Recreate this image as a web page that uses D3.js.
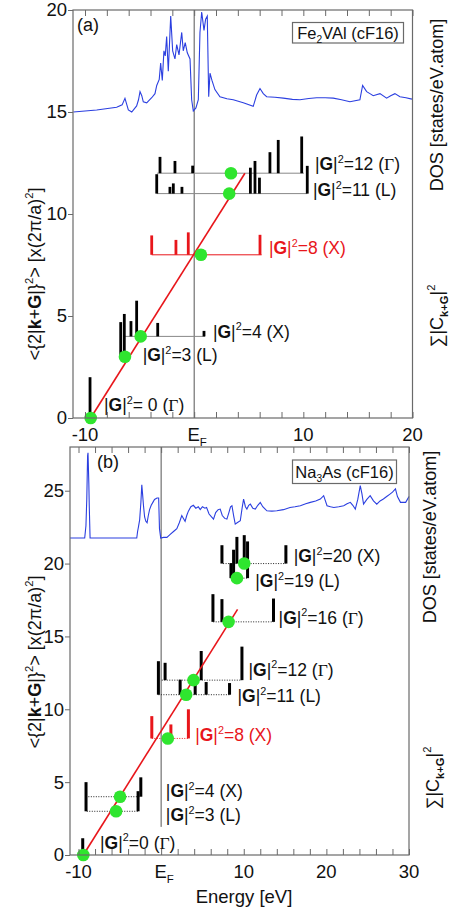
<!DOCTYPE html>
<html><head><meta charset="utf-8">
<script src="https://cdn.jsdelivr.net/npm/d3@7"></script>
<style>body{margin:0;background:#fff}svg{display:block}</style>
</head><body>
<script>
// ---------- DATA ----------
// Panel (a) Fe2VAl : DOS curve [energy eV, plotted value on left axis]
const dosA = [[-11.07,15.0],[-8.93,15.1],[-7.1,15.23],[-6.6,15.35],[-6.34,15.67],[-6.03,15.1],[-5.72,15.0],[-5.27,15.3],[-5.1,15.6],[-4.96,16.0],[-4.8,15.8],[-4.66,15.5],[-4.35,15.45],[-3.89,15.7],[-3.59,15.9],[-3.43,16.3],[-3.2,16.6],[-3.07,17.4],[-2.92,16.55],[-2.77,18.0],[-2.65,17.75],[-2.52,18.7],[-2.37,17.0],[-2.15,19.7],[-1.97,18.0],[-1.76,17.6],[-1.6,18.3],[-1.39,17.8],[-1.14,18.9],[-1.0,18.0],[-0.82,18.4],[-0.63,17.9],[-0.38,17.6],[-0.23,15.6],[-0.08,15.05],[0.16,15.2],[0.38,15.6],[0.53,18.9],[0.69,19.9],[0.9,19.0],[1.05,19.55],[1.2,19.7],[1.33,15.75],[1.45,16.9],[1.63,16.55],[1.9,16.1],[2.36,15.75],[3.0,15.65],[3.58,15.6],[4.5,15.45],[5.41,15.28],[5.72,15.83],[6.03,16.15],[6.33,15.9],[6.64,15.75],[7.4,15.72],[8.16,15.68],[9.0,15.62],[9.69,15.6],[10.5,15.66],[11.22,15.7],[12.0,15.7],[12.74,15.68],[13.5,15.6],[14.27,15.5],[15.18,15.6],[15.43,16.3],[15.8,16.0],[16.1,15.9],[16.4,15.8],[17.02,15.9],[17.63,15.68],[18.0,15.8],[18.39,15.9],[18.85,15.75],[19.4,15.7],[19.95,15.63]];
// Panel (a) bars: [|G|^2, energy, sum|C|^2 height]
const barsA = [[0,-9.54,2.0],[3,-6.73,1.7],[3,-6.4,2.1],[4,-5.79,0.75],[4,-5.27,1.75],[4,-3.34,0.66],[4,0.9,0.27],
  [8,-3.89,0.95],[8,-1.67,0.73],[8,-0.54,1.1],[8,6.03,0.98],
  [11,-3.43,0.95],[11,-2.22,0.33],[11,-1.91,0.5],[11,-1.12,0.33],[11,5.15,1.27],[11,5.57,1.6],[11,5.98,0.78],[11,10.36,1.36],
  [12,-3.13,0.8],[12,-1.76,0.6],[12,-0.14,0.37],[12,6.94,1.03],[12,7.7,1.63],[12,9.85,1.8]];
// Panel (a) group base lines: [|G|^2, from energy, to energy]
const baseA = [[3,-6.8,-6.3],[4,-6.49,0.99],[8,-3.89,6.18],[11,-3.43,10.36],[12,-3.41,10.05]];
// Panel (a) averaged energies (green dots): [|G|^2, energy]
const dotsA = [[0,-9.48],[3,-6.34],[4,-4.9],[8,0.62],[11,3.21],[12,3.37]];
const fitA = [[-9.48,0],[4.65,12]];
// Panel (a) labels: [|G|^2, text, symbol, energy, value]
const labelsA = [[12,"=12 (","Γ",11.06,12.45],[11,"=11 (","L",10.88,11.18],[8,"=8 (","X",6.85,8.33],[4,"=4 (","X",1.72,4.23],[3,"=3 (","L",-4.72,3.09],[0,"= 0 (","Γ",-8.26,0.64]];

// Panel (b) Na3As
const dosB = [[-11.03,21.75],[-9.25,21.75],[-9.1,22.6],[-9.0,24.4],[-8.9,27.4],[-8.85,27.6],[-8.75,25.5],[-8.7,24.0],[-8.6,21.75],[-2.95,21.75],[-2.85,22.2],[-2.75,22.5],[-2.6,23.0],[-2.45,24.2],[-2.34,25.4],[-2.25,24.8],[-2.14,24.0],[-2.0,23.2],[-1.85,22.9],[-1.7,22.8],[-1.55,23.3],[-1.4,23.7],[-1.2,24.0],[-1.0,24.2],[-0.8,24.4],[-0.5,24.5],[-0.3,24.5],[-0.2,22.4],[-0.05,21.75],[0.3,21.8],[0.7,21.8],[1.1,22.0],[1.5,22.2],[1.9,22.4],[2.2,22.8],[2.5,23.3],[2.7,23.1],[2.9,22.9],[3.1,23.3],[3.3,23.6],[3.6,23.9],[3.9,24.0],[4.2,23.8],[4.5,23.9],[4.73,23.7],[5.0,23.9],[5.3,23.8],[5.5,23.85],[5.8,23.4],[6.1,23.2],[6.34,23.05],[6.6,23.5],[6.9,23.7],[7.15,23.74],[7.4,23.3],[7.7,23.1],[7.96,23.05],[8.2,23.5],[8.4,23.9],[8.57,23.97],[8.8,23.2],[8.97,22.71],[9.2,22.8],[9.58,22.94],[9.8,23.8],[9.98,24.43],[10.2,23.9],[10.38,23.74],[10.6,24.0],[10.8,24.08],[11.1,23.8],[11.4,23.74],[11.7,24.0],[12.0,24.2],[12.3,23.9],[12.8,23.62],[13.4,23.6],[14.0,23.62],[14.8,23.7],[15.6,23.85],[16.2,23.9],[16.85,23.97],[17.5,24.1],[18.06,24.2],[18.7,24.3],[19.27,24.43],[19.67,24.66],[20.08,23.97],[20.5,23.9],[20.9,23.85],[21.5,23.9],[22.1,23.97],[22.5,24.1],[22.9,24.2],[23.2,24.0],[23.5,23.74],[23.8,24.4],[24.1,25.35],[24.3,24.8],[24.5,24.08],[24.9,24.4],[25.3,24.66],[25.7,24.3],[26.1,24.08],[26.5,24.3],[26.9,24.43],[27.3,24.6],[27.7,24.77],[28.0,24.9],[28.36,25.12],[28.6,24.6],[28.97,24.2],[29.3,24.2],[29.6,24.2],[30.0,24.6]];
const barsB = [[0,-9.49,1.15],[3,-9.09,2.0],[3,-2.79,1.38],[4,-2.46,1.33],
  [8,-1.13,1.53],[8,1.18,0.96],[8,3.3,2.0],
  [11,-0.33,2.3],[11,2.3,1.03],[11,4.12,0.8],[11,5.45,0.87],[11,8.28,0.8],
  [12,0.48,1.19],[12,4.85,2.0],[12,9.78,2.3],
  [16,6.27,1.9],[16,7.36,1.56],[16,13.6,1.6],
  [19,8.45,1.03],[19,8.77,1.95],[19,10.46,2.52],
  [20,7.36,1.26],[20,9.17,1.83],[20,10.06,1.95],[20,15.1,1.26]];
const baseB = [[3,-9.0,-2.75],[4,-8.81,-2.46],[8,-1.13,3.3],[11,-0.33,8.4],[12,0.08,9.78],[16,6.3,13.6],[19,8.45,10.46],[20,7.5,15.1]];
const dotsB = [[0,-9.42],[3,-5.45],[4,-4.97],[8,0.81],[11,3.03],[12,3.92],[16,8.16],[19,9.17],[20,10.06]];
const fitB = [[-9.42,0],[9.25,16.86]];
const labelsB = [[20,"=20 (","X",16.04,20.49],[19,"=19 (","L",11.39,18.81],[16,"=16 (","Γ",14.22,16.29],[12,"=12 (","Γ",10.58,12.73],[11,"=11 (","L",9.25,10.89],[8,"=8 (","X",4.12,8.21],[4,"=4 (","X",0.57,4.36],[3,"=3 (","L",0.57,2.75],[0,"=0 (","Γ",-7.39,0.85]];

const xTicksA = [-10,0,10,20], xTicksB = [-10,0,10,20,30];
const yTicksA = [0,5,10,15,20], yTicksB = [0,5,10,15,20,25];
const redGroup = 8;

// ---------- DRAW ----------
const W=454,H=911;
const FONT="'Liberation Sans', Arial, Helvetica, sans-serif";
const TICKFS=18.5, LABFS=17.5;
const svg=d3.select('body').append('svg').attr('width',W).attr('height',H)
  .attr('font-family',FONT);

function rich(text, segs, fs){
  let shift=0;
  segs.forEach(s=>{
    const ts=text.append('tspan').text(s.t);
    const target = s.sup ? -fs*0.42 : (s.sub ? fs*0.28 : 0);
    ts.attr('dy', target-shift); shift=target;
    if(s.sup||s.sub) ts.attr('font-size', fs*0.62);
    if(s.b) ts.attr('font-weight','bold');
    if(s.serif) ts.attr('font-family',"'Liberation Serif', 'Times New Roman', serif");
  });
}

function panel(cfg){
  const x=d3.scaleLinear().domain(cfg.xd).range(cfg.xr);
  const y=d3.scaleLinear().domain(cfg.yd).range(cfg.yr);
  const g=svg.append('g');
  const [x0,x1]=cfg.xr;
  const yBot=cfg.yr[0], yTop=cfg.yr[1];
  const minor=d3.range(-10,cfg.xd[1]+0.001,2);

  // E_F line
  g.append('line').attr('x1',x(0)).attr('x2',x(0)).attr('y1',yTop).attr('y2',y(cfg.efBottom))
    .attr('stroke','#555').attr('stroke-width',1);

  // DOS
  g.append('path').datum(cfg.dos).attr('fill','none').attr('stroke','#2b3fe0').attr('stroke-width',1.1)
    .attr('d',d3.line().x(d=>x(d[0])).y(d=>y(d[1])));

  // baselines
  g.selectAll('.base').data(cfg.base).enter().append('line')
    .attr('x1',d=>x(d[1])).attr('x2',d=>x(d[2])).attr('y1',d=>y(d[0])).attr('y2',d=>y(d[0]))
    .attr('stroke',d=>d[0]===redGroup?'#e8161b':(cfg.dotted?'#222':'#888'))
    .attr('stroke-width',1)
    .attr('stroke-dasharray',cfg.dotted?'1,1.5':null);

  // bars
  g.selectAll('.bar').data(cfg.bars).enter().append('rect')
    .attr('x',d=>x(d[1])-cfg.barW/2).attr('width',cfg.barW)
    .attr('y',d=>y(d[0]+d[2])).attr('height',d=>y(d[0])-y(d[0]+d[2]))
    .attr('fill',d=>d[0]===redGroup?'#e8161b':'#000');

  // fit line
  g.append('path').datum(cfg.fit).attr('stroke','#e8161b').attr('stroke-width',1.6).attr('fill','none')
    .attr('d',d3.line().x(d=>x(d[0])).y(d=>y(d[1])));

  // dots
  g.selectAll('.dot').data(cfg.dots).enter().append('circle')
    .attr('cx',d=>x(d[1])).attr('cy',d=>y(d[0])).attr('r',6.3).attr('fill','#2fe52f');

  // labels
  cfg.labels.forEach(l=>{
    const t=g.append('text').attr('x',x(l[3])).attr('y',y(l[4])+6).attr('font-size',LABFS)
      .attr('fill',l[0]===redGroup?'#e8161b':'#111');
    rich(t,[{t:'|'},{t:'G',b:1},{t:'|'},{t:'2',sup:1},{t:l[1]},{t:l[2],serif:l[2]==='Γ'},{t:')'}],LABFS);
  });

  // frame
  g.append('rect').attr('x',x0).attr('y',yTop).attr('width',x1-x0).attr('height',yBot-yTop)
    .attr('fill','none').attr('stroke','#6a6a6a').attr('stroke-width',1.2);

  // axes ticks
  const ax=g.append('g').attr('transform',`translate(0,${yBot})`)
    .call(d3.axisBottom(x).tickValues(minor).tickSizeInner(-6).tickSizeOuter(0).tickFormat(''));
  const axt=g.append('g').attr('transform',`translate(0,${yTop})`)
    .call(d3.axisTop(x).tickValues(minor).tickSizeInner(-6).tickSizeOuter(0).tickFormat(''));
  const ay=g.append('g').attr('transform',`translate(${x0},0)`)
    .call(d3.axisLeft(y).tickValues(cfg.yTicks).tickSizeInner(5).tickSizeOuter(0).tickPadding(1));
  [ax,axt,ay].forEach(a=>{a.select('.domain').remove(); a.selectAll('line').attr('stroke','#6a6a6a');});
  ay.selectAll('text').attr('font-size',TICKFS).attr('font-family',FONT).attr('fill','#111');

  // x tick labels
  cfg.xTicks.forEach(v=>{
    const t=g.append('text').attr('y',cfg.xLabY).attr('font-size',TICKFS).attr('fill','#111')
      .attr('text-anchor','middle');
    if(v===0){ t.attr('x',x(0)+3); rich(t,[{t:'E'},{t:'F',sub:1}],TICKFS); }
    else t.attr('x',x(v)).text(v);
  });

  // panel letter + legend box
  g.append('text').attr('x',cfg.letterX).attr('y',yTop+21).attr('font-size',18).attr('fill','#111').text(cfg.letter);
  g.append('rect').attr('x',cfg.box[0]).attr('y',cfg.box[1]).attr('width',cfg.box[2]).attr('height',cfg.box[3])
    .attr('fill','#fff').attr('stroke','#6a6a6a').attr('stroke-width',1.2);
  const bt=g.append('text').attr('x',cfg.box[0]+cfg.box[2]/2).attr('y',cfg.box[1]+cfg.box[3]/2+6)
    .attr('font-size',16.5).attr('text-anchor','middle').attr('fill','#111');
  rich(bt,cfg.boxText,16.5);

  // left axis title
  const lt=g.append('text').attr('transform',`translate(${cfg.ylabX},${cfg.ylabY}) rotate(-90)`)
    .attr('text-anchor','middle').attr('font-size',18).attr('fill','#111');
  rich(lt,[{t:'<{2|'},{t:'k',b:1},{t:'+'},{t:'G',b:1},{t:'|}'},{t:'2',sup:1},{t:'> [x(2π/a)'},{t:'2',sup:1},{t:']'}],18);

  // right titles
  g.append('text').attr('transform',`translate(${cfg.dosLab[0]},${cfg.dosLab[1]}) rotate(-90)`)
    .attr('text-anchor','middle').attr('font-size',18).attr('dy','0.35em').attr('fill','#111')
    .text('DOS [states/eV.atom]');
  const ct=g.append('text').attr('transform',`translate(${cfg.cLab[0]},${cfg.cLab[1]}) rotate(-90)`)
    .attr('text-anchor','middle').attr('font-size',18).attr('fill','#111');
  rich(ct,[{t:'∑|C'},{t:'k+G',sub:1,b:1},{t:'|'},{t:'2',sup:1}],18);
  return {x,y};
}

panel({xd:[-11.1,20], xr:[73,412.5], yd:[0,20], yr:[418,10], efBottom:0,
  dos:dosA, bars:barsA, base:baseA, dots:dotsA, fit:fitA, labels:labelsA, dotted:false, barW:2.8,
  yTicks:yTicksA, xTicks:xTicksA, xLabY:441, letter:'(a)', letterX:77,
  box:[292.5,22.5,111,20.5], boxText:[{t:'Fe'},{t:'2',sub:1},{t:'VAl (cF16)'}],
  ylabX:41, ylabY:274, dosLab:[437,105], cLab:[443,316]});

panel({xd:[-11.03,30], xr:[70,409], yd:[0,28], yr:[855,447], efBottom:1.93,
  dos:dosB, bars:barsB, base:baseB, dots:dotsB, fit:fitB, labels:labelsB, dotted:true, barW:3,
  yTicks:yTicksB, xTicks:xTicksB, xLabY:878, letter:'(b)', letterX:97,
  box:[292.5,460,104,23.5], boxText:[{t:'Na'},{t:'3',sub:1},{t:'As (cF16)'}],
  ylabX:41, ylabY:662, dosLab:[430,537], cLab:[439,778]});

svg.append('text').attr('x',244).attr('y',903).attr('text-anchor','middle').attr('font-size',18.5)
  .attr('fill','#111').text('Energy [eV]');
</script>
</body></html>
